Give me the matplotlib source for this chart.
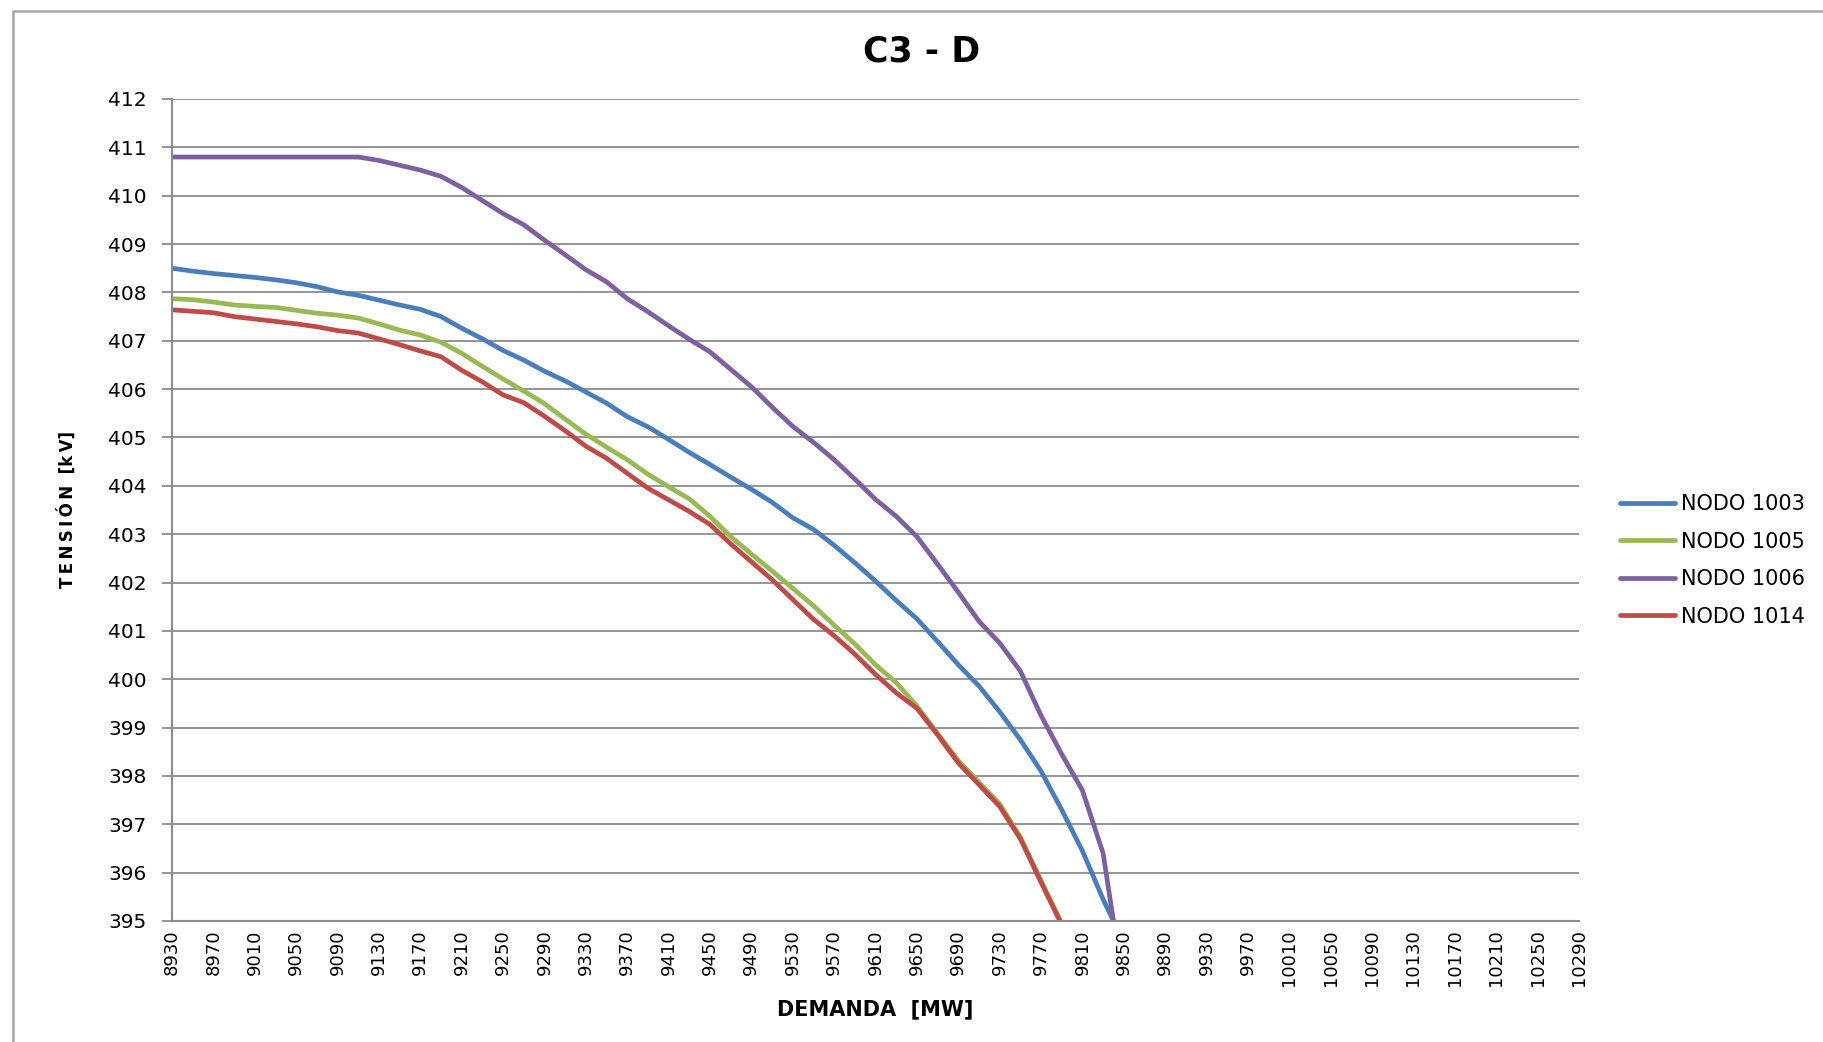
import numpy as np
import matplotlib
matplotlib.use("Agg")
import matplotlib.pyplot as plt
from matplotlib.lines import Line2D

plt.rcParams['font.family'] = ['DejaVu Sans']

# demanda [MW]
demanda = [8930, 8950, 8970, 8990, 9010, 9030, 9050, 9070, 9090, 9110,
           9130, 9150, 9170, 9190, 9210, 9230, 9250, 9270, 9290, 9310,
           9330, 9350, 9370, 9390, 9410, 9430, 9450, 9470, 9490, 9510,
           9530, 9550, 9570, 9590, 9610, 9630, 9650, 9670, 9690, 9710,
           9730, 9750, 9770, 9790, 9810, 9830, 9850]
nan = np.nan

# tension [kV] por nodo
nodo_1003 = [408.50, 408.44, 408.39, 408.35, 408.31, 408.26, 408.20, 408.12, 408.01, 407.94,
             407.84, 407.74, 407.65, 407.50, 407.26, 407.04, 406.80, 406.60, 406.37, 406.17,
             405.94, 405.71, 405.43, 405.22, 404.96, 404.69, 404.44, 404.18, 403.93, 403.66,
             403.34, 403.10, 402.77, 402.41, 402.03, 401.63, 401.25, 400.78, 400.30, 399.86,
             399.33, 398.75, 398.10, 397.30, 396.45, 395.45, 394.55]
nodo_1005 = [407.87, 407.85, 407.80, 407.74, 407.71, 407.69, 407.63, 407.57, 407.53, 407.47,
             407.35, 407.22, 407.12, 406.97, 406.74, 406.47, 406.21, 405.96, 405.70, 405.38,
             405.07, 404.80, 404.54, 404.24, 403.98, 403.73, 403.37, 402.95, 402.59, 402.24,
             401.88, 401.52, 401.12, 400.73, 400.30, 399.93, 399.45, 398.88, 398.32, 397.87,
             397.42, 396.74, 395.84, 394.95, nan, nan, nan]
nodo_1006 = [410.80, 410.80, 410.80, 410.80, 410.80, 410.80, 410.80, 410.80, 410.80, 410.80,
             410.73, 410.63, 410.53, 410.40, 410.17, 409.90, 409.63, 409.40, 409.08, 408.78,
             408.47, 408.22, 407.87, 407.60, 407.31, 407.03, 406.77, 406.41, 406.05, 405.63,
             405.23, 404.90, 404.54, 404.14, 403.72, 403.37, 402.95, 402.38, 401.80, 401.20,
             400.75, 400.17, 399.25, 398.45, 397.70, 396.40, 393.60]
nodo_1014 = [407.64, 407.61, 407.58, 407.50, 407.45, 407.40, 407.35, 407.29, 407.21, 407.16,
             407.04, 406.92, 406.79, 406.67, 406.39, 406.15, 405.88, 405.72, 405.44, 405.14,
             404.82, 404.57, 404.26, 403.95, 403.71, 403.47, 403.20, 402.80, 402.43, 402.06,
             401.65, 401.24, 400.90, 400.52, 400.10, 399.72, 399.40, 398.85, 398.27, 397.82,
             397.37, 396.70, 395.80, 394.92, nan, nan, nan]

series = [("NODO 1003", nodo_1003, "#4A7EBB"),
          ("NODO 1005", nodo_1005, "#98B954"),
          ("NODO 1006", nodo_1006, "#7D60A0"),
          ("NODO 1014", nodo_1014, "#BE4B48")]

W, H = 1824, 1042
fig = plt.figure(figsize=(W / 100, H / 100), dpi=100)
ax = fig.add_axes([172 / W, 1 - 921 / H, (1579 - 172) / W, (921 - 99) / H])

grid_c = "#8C8C8C"
for nombre, vals, col in series:
    ax.plot(demanda, vals, color=col, lw=3.4, label=nombre, solid_capstyle='round')

ax.set_xlim(8930, 10290)
ax.set_ylim(395, 412)
ax.set_yticks(range(395, 413))
ax.set_xticks(range(8930, 10291, 40))
ax.tick_params(axis='x', length=0, pad=6, labelsize=13, labelrotation=90)
ax.tick_params(axis='y', length=7, width=1.3, color=grid_c, pad=11, labelsize=14.5, direction='out')
ax.grid(axis='y', color=grid_c, lw=1.3)
ax.set_axisbelow(True)
for s in ['top', 'right']:
    ax.spines[s].set_visible(False)
for s in ['left', 'bottom']:
    ax.spines[s].set_color(grid_c)
    ax.spines[s].set_linewidth(1.5)

ax.set_xlabel("DEMANDA  [MW]", fontsize=15, fontweight='bold', va='center')
ax.xaxis.set_label_coords(0.5, -0.107)
ax.set_ylabel("T\u2009E\u2009N\u2009S\u2009I\u2009Ó\u2009N  [k\u2009V]", fontsize=12, fontweight='bold', va='center')
ax.yaxis.set_label_coords(-0.0746, 0.5)

fig.text(922 / W, 1 - 51 / H, "C3 - D", fontsize=25, fontweight='bold', ha='center', va='center')

fig.legend(loc='upper left', bbox_to_anchor=(1620 / W, 1 - 494 / H), frameon=False,
           fontsize=15, handlelength=2.64, handletextpad=0.29, labelspacing=0.84,
           borderpad=0, borderaxespad=0)

# borde del area del grafico
fig.add_artist(Line2D([13 / W, 13 / W, 1], [0, 1 - 11 / H, 1 - 11 / H],
                      transform=fig.transFigure, color="#A6A6A6", lw=1.8))

fig.savefig("out.png", dpi=100)
